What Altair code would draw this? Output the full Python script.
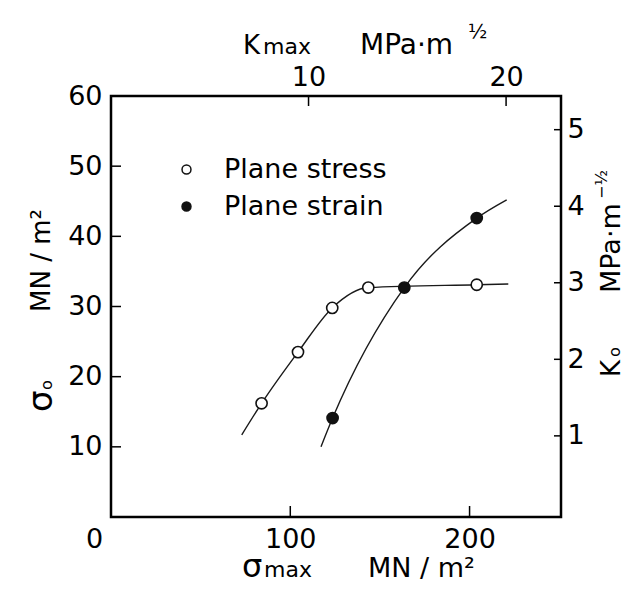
import altair as alt
import pandas as pd

FONT = "DejaVu Sans"

# ---- data ----
series_names = ["Plane stress", "Plane strain"]

stress_x = [84.0, 104.3, 123.4, 143.5, 204.0]
stress_y = [16.2, 23.5, 29.8, 32.7, 33.1]
strain_x = [123.6, 163.6, 204.0]
strain_y = [14.1, 32.7, 42.6]

stress_curve_x = [72.9, 84.0, 104.3, 123.4, 143.5, 204.0, 221.6]
stress_curve_y = [11.7, 16.2, 23.5, 29.8, 32.7, 33.1, 33.2]
strain_curve_x = [117.1, 123.6, 163.6, 204.0, 220.7]
strain_curve_y = [10.0, 14.1, 32.7, 42.6, 45.2]

smax_ticks = [0, 100, 200]
smax_inner_ticks = [100, 200]
so_ticks = [10, 20, 30, 40, 50, 60]
kmax_ticks = [10, 20]
ko_ticks = [1, 2, 3, 4, 5]

smax_domain = [0, 251]
so_domain = [0, 60]
kmax_domain = [0, 22.78]
ko_domain = [-0.06, 5.44]

# title pieces
t_sigma = "σ"
t_max = "max"
t_K = "K"
t_o = "o"
t_mnm2 = "MN / m²"
t_mpam = "MPa·m"
t_half = "½"
t_mhalf = "−½"

W, H = 450, 421

pts = pd.DataFrame({
    "x": stress_x + strain_x,
    "y": stress_y + strain_y,
    "series": [series_names[0]] * len(stress_x) + [series_names[1]] * len(strain_x),
})
curves = pd.DataFrame({
    "x": stress_curve_x + strain_curve_x,
    "y": stress_curve_y + strain_curve_y,
    "series": [series_names[0]] * len(stress_curve_x) + [series_names[1]] * len(strain_curve_x),
})

lab = dict(labelFont=FONT, labelFontSize=27, labelColor="black", domain=False, grid=False,
           ticks=False, labelFlush=False, title=None)

x_enc = alt.X("x:Q", scale=alt.Scale(domain=smax_domain, nice=False, zero=False),
              axis=alt.Axis(orient="bottom", values=smax_ticks, labelPadding=9, labelAlign="center",
                            labelOffset={"condition": {"test": "datum.value === 0", "value": -17}, "value": 0},
                            **lab))
y_enc = alt.Y("y:Q", scale=alt.Scale(domain=so_domain, nice=False),
              axis=alt.Axis(orient="left", values=so_ticks, labelPadding=9, labelAlign="right", **lab))

k_enc = alt.X("k:Q", scale=alt.Scale(domain=kmax_domain, nice=False, zero=False),
              axis=alt.Axis(orient="top", values=kmax_ticks, labelPadding=5, labelAlign="center", **lab))
ko_enc = alt.Y("ko:Q", scale=alt.Scale(domain=ko_domain, nice=False, zero=False),
               axis=alt.Axis(orient="right", values=ko_ticks, labelPadding=6, labelAlign="left", **lab))

base = pd.DataFrame({"k": [0]})

frame = alt.Chart(base).mark_rect(fill="transparent", stroke="black", strokeWidth=2.5).encode(
    x=alt.value(0), x2=alt.value(W), y=alt.value(0), y2=alt.value(H))

left_ticks = alt.Chart(pd.DataFrame({"y": so_ticks})).mark_rule(color="black", strokeWidth=1.5).encode(
    y=y_enc, x=alt.value(0), x2=alt.value(10))
bottom_ticks = alt.Chart(pd.DataFrame({"x": smax_inner_ticks})).mark_rule(color="black", strokeWidth=1.5).encode(
    x=x_enc, y=alt.value(H - 11), y2=alt.value(H))

lines = alt.Chart(curves).mark_line(interpolate="monotone", color="#1a1a1a", strokeWidth=1.4).encode(
    x=x_enc, y=y_enc, detail="series:N")

points = alt.Chart(pts).mark_point(shape="circle", filled=True, size=125, stroke="#111",
                                   strokeWidth=1.6, opacity=1).encode(
    x=x_enc, y=y_enc,
    fill=alt.Fill("series:N", scale=alt.Scale(domain=series_names, range=["white", "#111"]),
                  legend=alt.Legend(title=None, orient="none", legendX=62, legendY=60,
                                    labelFont=FONT, labelFontSize=27, labelColor="black",
                                    labelLimit=400,
                                    symbolSize=80, symbolType="circle", symbolStrokeColor="#111",
                                    symbolStrokeWidth=1.5, labelOffset=24, rowPadding=9,
                                    padding=0)))


def txt(s, x, y, size, angle=0):
    return alt.Chart(base).mark_text(text=s, font=FONT, fontSize=size, angle=angle, align="left",
                                     baseline="alphabetic", color="black").encode(
        x=alt.value(x), y=alt.value(y))


titles = [
    # bottom
    txt(t_sigma, 131, 481, 32), txt(t_max, 153, 481, 22), txt(t_mnm2, 257, 481, 27),
    # top
    txt(t_K, 132, -42, 26), txt(t_max, 152, -42, 22), txt(t_mpam, 249, -42, 28), txt(t_half, 357, -58, 20),
    # left (rotated)
    txt(t_sigma, -59, 316, 34, 270), txt(t_o, -59, 294, 16, 270), txt(t_mnm2, -61, 216, 26, 270),
    # right (rotated)
    txt(t_K, 509, 281, 26, 270), txt(t_o, 509, 261, 16, 270), txt(t_mpam, 509, 197, 27, 270),
    txt(t_mhalf, 496, 103, 16, 270),
]

inner = alt.layer(frame, left_ticks, bottom_ticks, lines, points, *titles)

top_ticks = alt.Chart(pd.DataFrame({"k": kmax_ticks})).mark_rule(color="black", strokeWidth=1.5).encode(
    x=k_enc, y=alt.value(0), y2=alt.value(10))
right_ticks = alt.Chart(pd.DataFrame({"ko": ko_ticks})).mark_rule(color="black", strokeWidth=1.5).encode(
    y=ko_enc, x=alt.value(W - 7), x2=alt.value(W))
dummy = alt.Chart(pd.DataFrame({"k": kmax_domain, "ko": ko_domain})).mark_point(opacity=0).encode(
    x=k_enc, y=ko_enc)

outer = alt.layer(dummy, top_ticks, right_ticks)

chart = alt.layer(inner, outer).resolve_scale(x="independent", y="independent").properties(
    width=W, height=H,
    padding={"left": 103, "top": 88, "right": 69, "bottom": 68},
    autosize=alt.AutoSizeParams(type="none"),
).configure_view(strokeWidth=0).configure(background="white")

chart.save("out.html", embed_options={"renderer": "svg", "actions": False})
